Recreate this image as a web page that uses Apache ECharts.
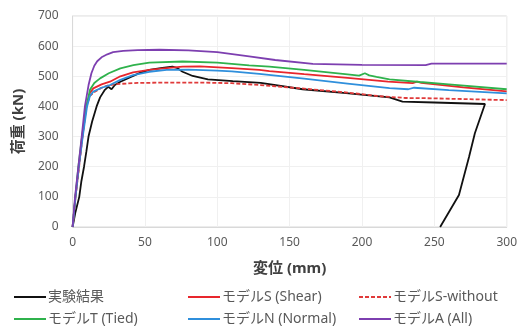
<!DOCTYPE html>
<html>
<head>
<meta charset="utf-8">
<script src="https://cdn.jsdelivr.net/npm/echarts@6/dist/echarts.min.js"></script>
<style>
  html, body { margin: 0; padding: 0; background: #fff; }
  #chart { width: 520px; height: 331px; }
</style>
</head>
<body>
<div id="chart"></div>
<script>
// Load–displacement curves: [displacement (mm), load (kN)]
const experiment = [
  [0,0],[2,50],[4.6,100],[6,150],[7.9,200],[9.5,250],[11,300],[13.5,350],[16.6,400],[19,430],
  [22.3,455],[24.6,465],[26.9,457],[29.2,471],[33,482],[40.7,499],[47,512],[53,521],[62,528],
  [69,532],[72,528],[76,515],[83,501],[93.5,490],[110.7,484],[130,478],[159,457],[189,444],
  [219,430],[228,416],[250,413],[285,408],[278,311],[274,233],[267,106],[254,0]
];
const modelS = [
  [0,0],[2,100],[4.3,200],[6.8,300],[9.5,400],[12,445],[14.3,460],[20,473],[25.8,482],[33,500],
  [41.8,513],[53,521],[65,527],[76,532],[88,533],[110,527],[129,521],[136,517],[160,507],
  [190,495],[218,482],[235,477],[238,482],[241,478],[270,463],[300,450]
];
const modelSWithout = [
  [0,0],[2,100],[4.5,200],[7,310],[9.5,400],[12,435],[15.4,449],[20,462],[25,470],[30,474],
  [45,478],[64,479],[90,479],[110,477],[130,471],[160,459],[190,446],[212,434],[230,428],
  [248,427],[300,421]
];
const modelT = [
  [0,0],[1.9,100],[4,200],[6.5,300],[9.5,400],[12,455],[15,478],[19,493],[25,510],[33,526],
  [42,537],[53,545],[76,549],[100,545],[122,536],[136,532],[160,521],[190,506],[198,502],
  [202,510],[205,503],[210,498],[219,490],[240,481],[260,473],[300,457]
];
const modelN = [
  [0,0],[2,100],[4.3,200],[7,300],[10,400],[12,435],[14.3,449],[20,462],[25.8,471],[33,488],
  [41.8,504],[53,515],[65,521],[80,522],[100,519],[110,516],[129,508],[160,492],[190,476],
  [219,461],[232,457],[236,462],[260,454],[300,443]
];
const modelA = [
  [0,0],[1.7,100],[4,200],[6.3,300],[8.5,400],[11,470],[13,510],[15,535],[17,550],[20,563],
  [24,573],[28,580],[35,584],[45,587],[60,588],[80,586],[100,580],[122,566],[140,554],
  [166,541],[200,538],[244,537],[248,542],[300,542]
];

const xTicks = { min: 0, max: 300, step: 50 };
const yTicks = { min: 0, max: 700, step: 100 };

const latin = "'Noto Sans', 'Noto Sans CJK JP', sans-serif";
const textGray = '#595959';

function curve(name, data, color, dashed) {
  return {
    name: name,
    type: 'line',
    data: data,
    symbol: 'none',
    smooth: false,
    lineStyle: { color: color, width: 1.8, type: dashed ? [4, 2] : 'solid' },
    itemStyle: { color: color },
    emphasis: { disabled: true },
    animation: false
  };
}

// three two-row legend columns
function legendColumn(left, names) {
  return {
    orient: 'vertical',
    left: left,
    top: 290,
    height: 41,
    padding: 0,
    itemWidth: 32,
    itemHeight: 14,
    itemGap: 8,
    selectedMode: false,
    data: names,
    itemStyle: { opacity: 0 },
    textStyle: { fontFamily: latin, fontSize: 14, color: textGray, padding: [0, 0, 0, -3] }
  };
}

const chart = echarts.init(document.getElementById('chart'), null, { renderer: 'canvas' });
chart.setOption({
  animation: false,
  backgroundColor: '#ffffff',
  grid: {
    left: 72.6, right: 12, top: 16, bottom: 104,
    show: true, borderColor: '#d9d9d9', borderWidth: 1
  },
  legend: [
    legendColumn(13, ['実験結果', 'モデルT (Tied)']),
    legendColumn(187, ['モデルS (Shear)', 'モデルN (Normal)']),
    legendColumn(358, ['モデルS-without', 'モデルA (All)'])
  ],
  xAxis: {
    type: 'value',
    min: xTicks.min, max: xTicks.max, interval: xTicks.step,
    name: '変位 (mm)',
    nameLocation: 'middle',
    nameGap: 34,
    nameTextStyle: { fontFamily: latin, fontSize: 15, fontWeight: 'bold', color: '#404040' },
    axisLine: { lineStyle: { color: '#d9d9d9' } },
    axisTick: { show: false },
    axisLabel: { fontFamily: latin, fontSize: 12, color: textGray, margin: 10 },
    splitLine: { show: true, lineStyle: { color: '#f0f0f0', width: 1 } }
  },
  yAxis: {
    type: 'value',
    min: yTicks.min, max: yTicks.max, interval: yTicks.step,
    name: '荷重 (kN)',
    nameLocation: 'middle',
    nameGap: 46,
    nameTextStyle: { fontFamily: latin, fontSize: 15, fontWeight: 'bold', color: '#404040' },
    axisLine: { show: true, lineStyle: { color: '#d9d9d9' } },
    axisTick: { show: false },
    axisLabel: { fontFamily: latin, fontSize: 12, color: textGray, margin: 14 },
    splitLine: { show: true, lineStyle: { color: '#f0f0f0', width: 1 } }
  },
  series: [
    curve('実験結果', experiment, '#111111', false),
    curve('モデルS (Shear)', modelS, '#e8262d', false),
    curve('モデルS-without', modelSWithout, '#e03a3a', true),
    curve('モデルT (Tied)', modelT, '#2fb24c', false),
    curve('モデルN (Normal)', modelN, '#2f8fdc', false),
    curve('モデルA (All)', modelA, '#7d3fb0', false)
  ]
});
</script>
</body>
</html>
